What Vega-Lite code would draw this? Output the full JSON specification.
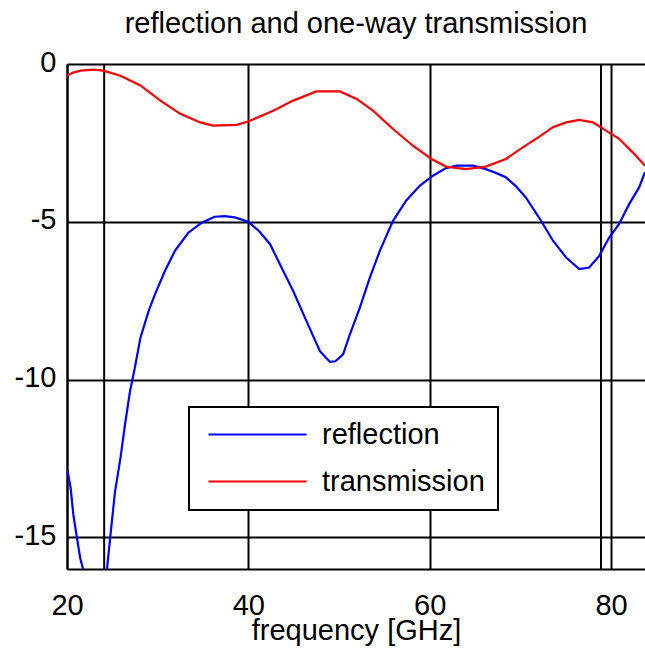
{
  "$schema": "https://vega.github.io/schema/vega-lite/v6.json",
  "autosize": {"type": "none"},
  "width": 578,
  "height": 505,
  "padding": {"left": 67, "top": 64, "right": 0, "bottom": 79},
  "background": "white",
  "title": {
    "text": "reflection and one-way transmission",
    "font": "Liberation Sans",
    "fontSize": 29,
    "fontWeight": "normal",
    "color": "black",
    "anchor": "middle",
    "baseline": "alphabetic",
    "offset": 0,
    "dy": 14
  },
  "config": {
    "view": {"stroke": null},
    "axis": {
      "labelFont": "Liberation Sans",
      "labelFontSize": 29,
      "labelColor": "black",
      "titleFont": "Liberation Sans",
      "titleFontSize": 29,
      "titleFontWeight": "normal",
      "titleColor": "black",
      "domainColor": "black",
      "domainWidth": 2,
      "gridColor": "black",
      "gridWidth": 2,
      "gridOpacity": 1,
      "ticks": false
    },
    "legend": {
      "strokeWidth": 2
    }
  },
  "datasets": {
    "curves": [
      {"f": 20.07, "v": -12.9, "series": "reflection"},
      {"f": 20.4, "v": -13.43, "series": "reflection"},
      {"f": 20.7, "v": -14.28, "series": "reflection"},
      {"f": 21.1, "v": -15.02, "series": "reflection"},
      {"f": 21.46, "v": -15.66, "series": "reflection"},
      {"f": 21.8, "v": -16.03, "series": "reflection"},
      {"f": 22.5, "v": -16.9, "series": "reflection"},
      {"f": 23.2, "v": -17.3, "series": "reflection"},
      {"f": 23.8, "v": -16.9, "series": "reflection"},
      {"f": 24.4, "v": -16.03, "series": "reflection"},
      {"f": 24.8, "v": -14.9, "series": "reflection"},
      {"f": 25.3, "v": -13.54, "series": "reflection"},
      {"f": 25.9, "v": -12.48, "series": "reflection"},
      {"f": 26.4, "v": -11.42, "series": "reflection"},
      {"f": 26.95, "v": -10.37, "series": "reflection"},
      {"f": 27.5, "v": -9.6, "series": "reflection"},
      {"f": 28.1, "v": -8.67, "series": "reflection"},
      {"f": 29.0, "v": -7.83, "series": "reflection"},
      {"f": 29.7, "v": -7.3, "series": "reflection"},
      {"f": 30.8, "v": -6.56, "series": "reflection"},
      {"f": 31.9, "v": -5.92, "series": "reflection"},
      {"f": 33.4, "v": -5.34, "series": "reflection"},
      {"f": 34.9, "v": -5.02, "series": "reflection"},
      {"f": 36.3, "v": -4.84, "series": "reflection"},
      {"f": 37.4, "v": -4.82, "series": "reflection"},
      {"f": 38.5, "v": -4.86, "series": "reflection"},
      {"f": 40.0, "v": -5.0, "series": "reflection"},
      {"f": 41.2, "v": -5.3, "series": "reflection"},
      {"f": 42.4, "v": -5.71, "series": "reflection"},
      {"f": 43.85, "v": -6.56, "series": "reflection"},
      {"f": 44.95, "v": -7.19, "series": "reflection"},
      {"f": 46.4, "v": -8.14, "series": "reflection"},
      {"f": 47.9, "v": -9.1, "series": "reflection"},
      {"f": 49.0, "v": -9.44, "series": "reflection"},
      {"f": 49.6, "v": -9.42, "series": "reflection"},
      {"f": 50.45, "v": -9.2, "series": "reflection"},
      {"f": 51.2, "v": -8.57, "series": "reflection"},
      {"f": 52.3, "v": -7.72, "series": "reflection"},
      {"f": 53.4, "v": -6.77, "series": "reflection"},
      {"f": 54.5, "v": -5.92, "series": "reflection"},
      {"f": 55.96, "v": -4.97, "series": "reflection"},
      {"f": 57.4, "v": -4.33, "series": "reflection"},
      {"f": 58.9, "v": -3.86, "series": "reflection"},
      {"f": 60.36, "v": -3.54, "series": "reflection"},
      {"f": 61.8, "v": -3.3, "series": "reflection"},
      {"f": 63.0, "v": -3.22, "series": "reflection"},
      {"f": 64.8, "v": -3.22, "series": "reflection"},
      {"f": 66.2, "v": -3.33, "series": "reflection"},
      {"f": 67.3, "v": -3.45, "series": "reflection"},
      {"f": 68.4, "v": -3.59, "series": "reflection"},
      {"f": 69.5, "v": -3.87, "series": "reflection"},
      {"f": 70.6, "v": -4.23, "series": "reflection"},
      {"f": 72.1, "v": -4.88, "series": "reflection"},
      {"f": 73.6, "v": -5.6, "series": "reflection"},
      {"f": 75.05, "v": -6.13, "series": "reflection"},
      {"f": 76.5, "v": -6.5, "series": "reflection"},
      {"f": 77.6, "v": -6.45, "series": "reflection"},
      {"f": 78.7, "v": -6.08, "series": "reflection"},
      {"f": 79.8, "v": -5.5, "series": "reflection"},
      {"f": 80.9, "v": -5.07, "series": "reflection"},
      {"f": 82.0, "v": -4.44, "series": "reflection"},
      {"f": 83.1, "v": -3.91, "series": "reflection"},
      {"f": 83.75, "v": -3.43, "series": "reflection"},

      {"f": 20.0, "v": -0.37, "series": "transmission"},
      {"f": 20.6, "v": -0.28, "series": "transmission"},
      {"f": 21.5, "v": -0.21, "series": "transmission"},
      {"f": 22.9, "v": -0.18, "series": "transmission"},
      {"f": 24.0, "v": -0.21, "series": "transmission"},
      {"f": 25.9, "v": -0.37, "series": "transmission"},
      {"f": 28.1, "v": -0.68, "series": "transmission"},
      {"f": 30.3, "v": -1.16, "series": "transmission"},
      {"f": 32.5, "v": -1.58, "series": "transmission"},
      {"f": 34.7, "v": -1.85, "series": "transmission"},
      {"f": 36.1, "v": -1.95, "series": "transmission"},
      {"f": 38.7, "v": -1.93, "series": "transmission"},
      {"f": 40.0, "v": -1.82, "series": "transmission"},
      {"f": 42.75, "v": -1.48, "series": "transmission"},
      {"f": 44.95, "v": -1.16, "series": "transmission"},
      {"f": 47.5, "v": -0.87, "series": "transmission"},
      {"f": 50.1, "v": -0.87, "series": "transmission"},
      {"f": 51.9, "v": -1.1, "series": "transmission"},
      {"f": 53.75, "v": -1.48, "series": "transmission"},
      {"f": 55.96, "v": -2.06, "series": "transmission"},
      {"f": 58.16, "v": -2.59, "series": "transmission"},
      {"f": 60.2, "v": -3.01, "series": "transmission"},
      {"f": 61.8, "v": -3.25, "series": "transmission"},
      {"f": 64.0, "v": -3.33, "series": "transmission"},
      {"f": 66.2, "v": -3.25, "series": "transmission"},
      {"f": 68.4, "v": -3.01, "series": "transmission"},
      {"f": 70.4, "v": -2.62, "series": "transmission"},
      {"f": 72.1, "v": -2.3, "series": "transmission"},
      {"f": 73.6, "v": -2.0, "series": "transmission"},
      {"f": 75.05, "v": -1.85, "series": "transmission"},
      {"f": 76.5, "v": -1.77, "series": "transmission"},
      {"f": 78.0, "v": -1.85, "series": "transmission"},
      {"f": 79.45, "v": -2.11, "series": "transmission"},
      {"f": 80.9, "v": -2.37, "series": "transmission"},
      {"f": 82.4, "v": -2.8, "series": "transmission"},
      {"f": 83.75, "v": -3.22, "series": "transmission"}
    ],
    "markers": [
      {"f": 24.1},
      {"f": 78.9}
    ]
  },
  "layer": [
    {
      "data": {"name": "markers"},
      "mark": {"type": "rule", "color": "black", "strokeWidth": 2},
      "encoding": {
        "x": {"field": "f", "type": "quantitative"}
      }
    },
    {
      "data": {"name": "curves"},
      "mark": {"type": "line", "clip": true, "strokeWidth": 2.2},
      "encoding": {
        "x": {
          "field": "f",
          "type": "quantitative",
          "scale": {"domain": [20, 83.75], "nice": false, "zero": false},
          "axis": {
            "values": [20, 40, 60, 80],
            "title": "frequency [GHz]",
            "labelPadding": 22,
            "titleBaseline": "alphabetic",
            "titleY": 70,
            "labelFlush": false
          }
        },
        "y": {
          "field": "v",
          "type": "quantitative",
          "scale": {"domain": [-16, 0], "nice": false, "zero": false},
          "axis": {
            "values": [0, -5, -10, -15],
            "title": null,
            "labelExpr": "'' + datum.value",
            "labelPadding": 11,
            "labelOffset": -2,
            "labelFlush": false
          }
        },
        "color": {
          "field": "series",
          "type": "nominal",
          "scale": {"domain": ["reflection", "transmission"], "range": ["#0000ff", "#ff0000"]},
          "legend": {
            "title": null,
            "orient": "none",
            "legendX": 122,
            "legendY": 343,
            "symbolType": "M-1,0H11.25",
            "symbolSize": 256,
            "symbolStrokeWidth": 2,
            "symbolFillColor": "transparent",
            "labelFont": "Liberation Sans",
            "labelFontSize": 29,
            "labelColor": "black",
            "labelOffset": 91,
            "labelLimit": 400,
            "strokeColor": "black",
            "fillColor": "white",
            "padding": 13,
            "rowPadding": 17
          }
        }
      }
    }
  ]
}
